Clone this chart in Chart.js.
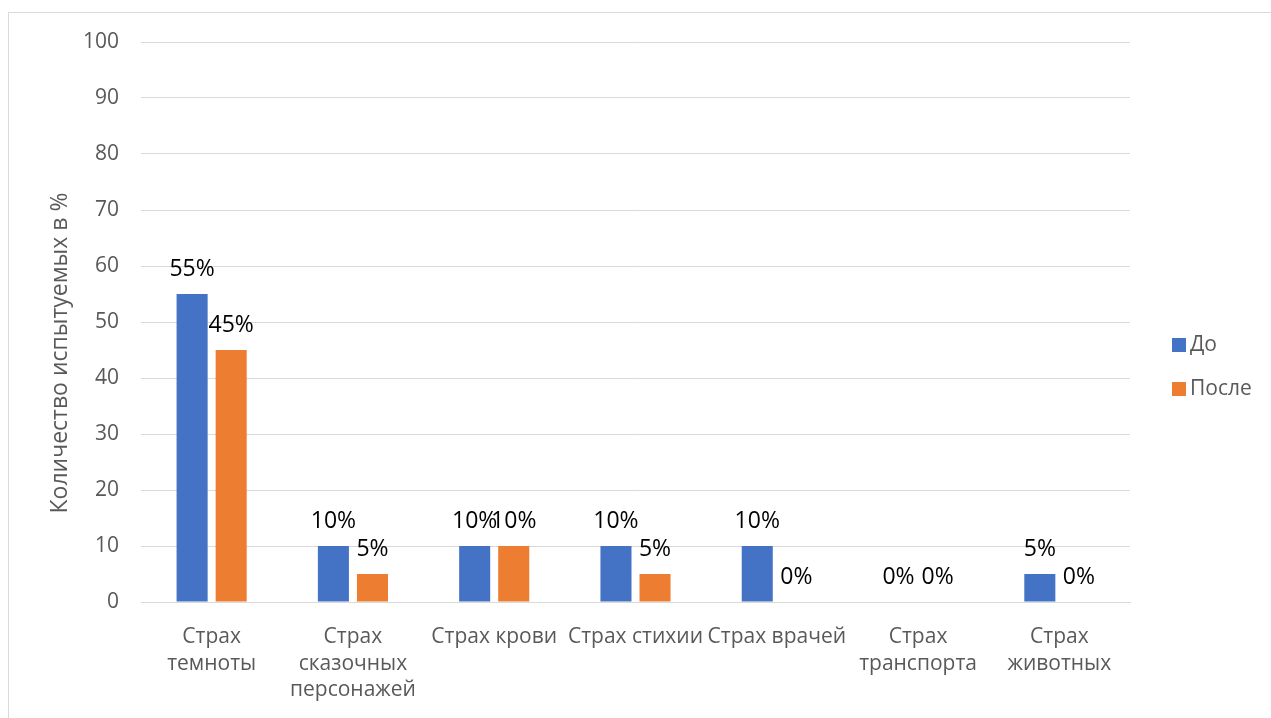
<!DOCTYPE html>
<html>
<head>
<meta charset="utf-8">
<script src="https://cdn.jsdelivr.net/npm/chart.js@4/dist/chart.umd.min.js"></script>
<style>
  html, body { margin: 0; padding: 0; background: #fff; }
  #wrap { position: relative; width: 1271px; height: 718px; overflow: hidden; }
  #frame { position: absolute; left: 8px; top: 12px; width: 1300px; height: 800px; border: 1px solid #d9d9d9; box-sizing: border-box; pointer-events: none; }
  canvas { position: absolute; left: 0; top: 0; }
</style>
</head>
<body>
<div id="wrap">
  <div id="frame"></div>
  <canvas id="c" width="1271" height="718"></canvas>
</div>
<script>
const categories = [
  ["Страх", "темноты"],
  ["Страх", "сказочных", "персонажей"],
  "Страх крови",
  "Страх стихии",
  "Страх врачей",
  ["Страх", "транспорта"],
  ["Страх", "животных"]
];
const seriesNames = ["До", "После"];
const beforeValues = [55, 10, 10, 10, 10, 0, 5];
const afterValues = [45, 5, 10, 5, 0, 0, 0];
const seriesColors = ["#4472C4", "#ED7D31"];
const yTicks = [0, 10, 20, 30, 40, 50, 60, 70, 80, 90, 100];
const yTitle = "Количество испытуемых в %";

const FONT = "'Open Sans', 'Noto Sans', sans-serif";

const dataLabels = {
  id: 'dataLabels',
  afterDatasetsDraw(chart) {
    const ctx = chart.ctx;
    ctx.save();
    ctx.font = "23px " + FONT;
    ctx.fillStyle = "#000";
    ctx.textAlign = "center";
    ctx.textBaseline = "middle";
    chart.data.datasets.forEach((ds, i) => {
      const meta = chart.getDatasetMeta(i);
      meta.data.forEach((bar, j) => {
        ctx.fillText(ds.data[j] + "%", bar.x, bar.y - 25);
      });
    });
    ctx.restore();
  }
};

const sideLegend = {
  id: 'sideLegend',
  afterDraw(chart) {
    const ctx = chart.ctx;
    ctx.save();
    ctx.font = "21px " + FONT;
    ctx.textAlign = "left";
    ctx.textBaseline = "middle";
    const x0 = chart.chartArea.right + 42;
    const yMid = (chart.chartArea.top + chart.chartArea.bottom) / 2;
    chart.data.datasets.forEach((ds, i) => {
      const y = yMid + 23 + i * 44;
      ctx.fillStyle = ds.backgroundColor;
      ctx.fillRect(x0, y - 7, 14, 14);
      ctx.fillStyle = "#595959";
      ctx.fillText(ds.label, x0 + 18, y);
    });
    ctx.restore();
  }
};

const axisTitle = {
  id: 'axisTitle',
  afterDraw(chart) {
    const ctx = chart.ctx;
    ctx.save();
    ctx.font = "23px " + FONT;
    ctx.fillStyle = "#595959";
    ctx.textAlign = "center";
    ctx.textBaseline = "middle";
    ctx.translate(60, (chart.chartArea.top + chart.chartArea.bottom) / 2 + 31);
    ctx.rotate(-Math.PI / 2);
    ctx.fillText(yTitle, 0, 0);
    ctx.restore();
  }
};

new Chart(document.getElementById('c'), {
  type: 'bar',
  data: {
    labels: categories,
    datasets: [
      { label: seriesNames[0], data: beforeValues, backgroundColor: seriesColors[0] },
      { label: seriesNames[1], data: afterValues, backgroundColor: seriesColors[1] }
    ]
  },
  options: {
    responsive: false,
    animation: false,
    devicePixelRatio: 1,
    datasets: { bar: { categoryPercentage: 0.553, barPercentage: 0.795 } },
    layout: { padding: { left: 0, top: 42, right: 141, bottom: 0 } },
    plugins: { legend: { display: false }, tooltip: { enabled: false } },
    scales: {
      x: {
        grid: { display: false, drawTicks: false },
        border: { display: true, color: '#d9d9d9', width: 1 },
        ticks: { color: '#595959', font: { family: FONT, size: 21, lineHeight: 1.26 }, padding: 22, maxRotation: 0, autoSkip: false },
        afterFit(scale) { scale.height = 116; }
      },
      y: {
        min: 0, max: 100,
        afterBuildTicks(scale) { scale.ticks = yTicks.map(v => ({ value: v })); },
        grid: { color: '#d9d9d9', lineWidth: 1, drawTicks: false },
        border: { display: false },
        ticks: { color: '#595959', font: { family: FONT, size: 21 }, padding: 22 },
        afterFit(scale) { scale.width = 141; }
      }
    }
  },
  plugins: [dataLabels, sideLegend, axisTitle]
});
</script>
</body>
</html>
